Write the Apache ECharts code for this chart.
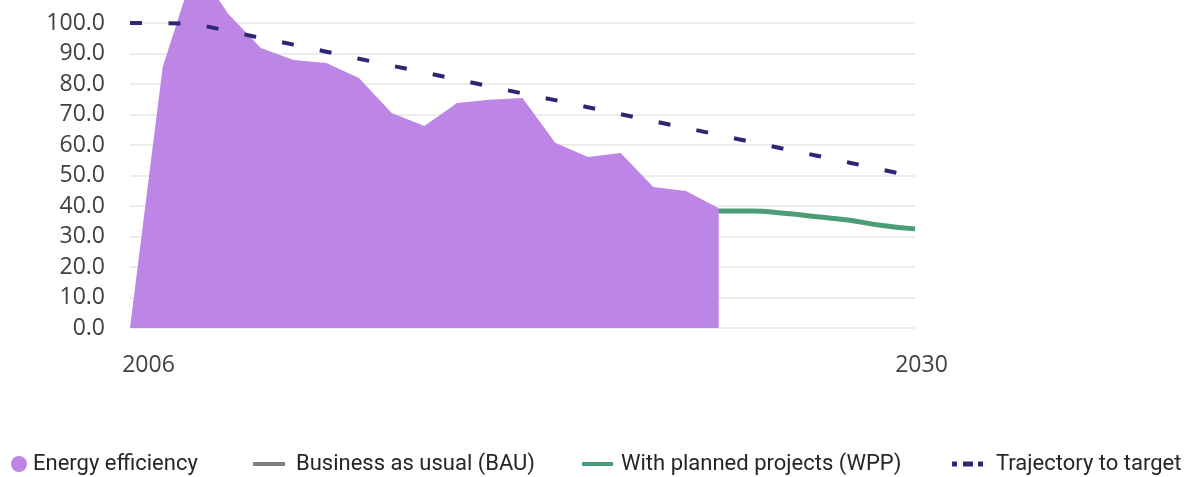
<!DOCTYPE html>
<html>
<head>
<meta charset="utf-8">
<script src="https://cdn.jsdelivr.net/npm/echarts@6/dist/echarts.min.js"></script>
<style>
html,body{margin:0;padding:0;background:#fff;overflow:hidden;}
#chart{width:1191px;height:515px;position:absolute;left:0;top:-38px;}
</style>
</head>
<body>
<div id="chart"></div>
<script>
const years = ['2006','2007','2008','2009','2010','2011','2012','2013','2014','2015','2016','2017','2018','2019','2020','2021','2022','2023','2024','2025','2026','2027','2028','2029','2030'];
const energyEfficiency = [0, 85.6, 119, 103, 91.8, 87.9, 86.9, 82.0, 70.5, 66.2, 73.8, 74.8, 75.4, 60.7, 56.1, 57.4, 46.2, 44.9, 39.3, null, null, null, null, null, null];
const businessAsUsual = [null, null, null, null, null, null, null, null, null, null, null, null, null, null, null, null, null, null, 38.4, 38.4, 37.6, 36.5, 35.3, 33.6, 32.5];
const withPlannedProjects = [null, null, null, null, null, null, null, null, null, null, null, null, null, null, null, null, null, null, 38.4, 38.4, 37.6, 36.5, 35.3, 33.6, 32.5];
const trajectoryToTarget = [100.0, 100.0, 99.7, 97.4, 95.1, 92.9, 90.6, 88.3, 86.0, 83.8, 81.5, 79.2, 76.9, 74.7, 72.4, 70.1, 67.8, 65.6, 63.3, 61.0, 58.7, 56.5, 54.2, 51.9, 49.6];
const yTicks = {min: 0, max: 120, interval: 10};
const shownYears = ['2006', '2030'];

const chart = echarts.init(document.getElementById('chart'), null, {renderer: 'canvas'});
const legendText = {fontFamily: 'Roboto', fontSize: 22, color: '#262626'};
const axisFont = {fontFamily: 'Open Sans', fontSize: 23, color: '#404040'};

chart.setOption({
  animation: false,
  grid: {left: 130, right: 276, top: 0, bottom: 149, containLabel: false},
  xAxis: {
    type: 'category',
    data: years,
    boundaryGap: false,
    axisLine: {show: false},
    axisTick: {show: false},
    splitLine: {show: false},
    axisLabel: {
      margin: 26,
      interval: (i, v) => shownYears.indexOf(v) >= 0,
      formatter: v => v === '2006' ? '{a|' + v + '}' : '{b|' + v + '}',
      rich: {
        a: Object.assign({padding: [0, 0, 0, 37]}, axisFont),
        b: Object.assign({padding: [0, 0, 0, 13]}, axisFont)
      }
    }
  },
  yAxis: {
    type: 'value',
    min: yTicks.min, max: yTicks.max, interval: yTicks.interval,
    axisLine: {show: false},
    axisTick: {show: false},
    splitLine: {lineStyle: {color: '#e6e6e6', width: 1.5}},
    axisLabel: Object.assign({
      margin: 25,
      formatter: v => v > 100 ? '' : v.toFixed(1)
    }, axisFont)
  },
  legend: [
    {data: ['Energy efficiency'], left: 6, top: 486, icon: 'circle', itemWidth: 16, itemHeight: 16, textStyle: Object.assign({padding: [0, 0, 0, 1]}, legendText)},
    {data: ['Business as usual (BAU)'], left: 248, top: 486, icon: 'rect', itemWidth: 32, itemHeight: 4, textStyle: Object.assign({padding: [0, 0, 0, 6]}, legendText)},
    {data: ['With planned projects (WPP)'], left: 577, top: 486, icon: 'rect', itemWidth: 31, itemHeight: 4, textStyle: Object.assign({padding: [0, 0, 0, 3]}, legendText)},
    {data: ['Trajectory to target'], left: 947, top: 486, icon: 'path://M0,0h5v5h-5z M11,0h10v5h-10z M26,0h5v5h-5z', itemWidth: 31, itemHeight: 5, textStyle: Object.assign({padding: [0, 0, 0, 8]}, legendText)}
  ],
  series: [
    {
      name: 'Energy efficiency',
      type: 'line',
      data: energyEfficiency,
      color: '#bd85e5',
      symbol: 'none',
      lineStyle: {width: 0},
      areaStyle: {color: '#bd85e5', opacity: 1}
    },
    {
      name: 'Business as usual (BAU)',
      type: 'line',
      data: businessAsUsual,
      color: '#808080',
      symbol: 'none',
      smooth: true,
      lineStyle: {width: 3}
    },
    {
      name: 'With planned projects (WPP)',
      type: 'line',
      data: withPlannedProjects,
      color: '#4a9d77',
      symbol: 'none',
      smooth: true,
      lineStyle: {width: 5}
    },
    {
      name: 'Trajectory to target',
      type: 'line',
      data: trajectoryToTarget,
      color: '#2e2573',
      symbol: 'none',
      lineStyle: {width: 4, type: [12, 26.5], dashOffset: 0}
    }
  ]
});
</script>
</body>
</html>
